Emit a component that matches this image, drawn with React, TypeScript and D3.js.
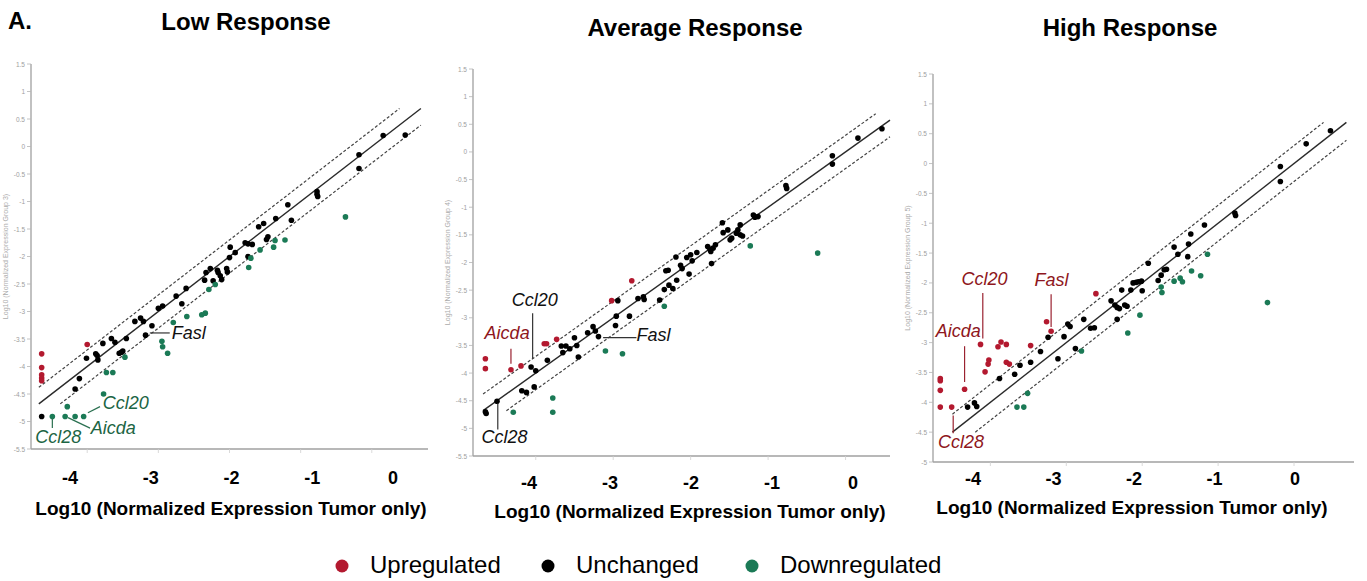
import React from 'react';
import * as d3 from 'd3';

type Pt = [number, number];
type Note = { gene: string; tone: 'up' | 'same' | 'down'; text: Pt; from: Pt; to: Pt };

// tick values / labels
const xTickValues = [-4, -3, -2, -1, 0];
const xTickLabels = ['-4', '-3', '-2', '-1', '0'];
const yTicksLong = [1.5, 1, 0.5, 0, -0.5, -1, -1.5, -2, -2.5, -3, -3.5, -4, -4.5, -5, -5.5];
const yTicksShort = [1.5, 1, 0.5, 0, -0.5, -1, -1.5, -2, -2.5, -3, -3.5, -4, -4.5, -5];
const legendLabels = ['Upregulated', 'Unchanged', 'Downregulated'];
const FOLD = Math.log10(2); // 2-fold boundary lines

// Low response (x = tumor only, y = group 3)
const lowUp: Pt[] = [[-4.64, -3.77], [-4.64, -4.02], [-4.64, -4.15], [-4.64, -4.21], [-4.64, -4.26], [-4.0, -3.6]];
const lowSame: Pt[] = [
  [-4.64, -4.91], [-4.17, -4.41], [-4.11, -4.22], [-4.01, -3.85], [-3.88, -3.77], [-3.86, -3.8], [-3.85, -3.88],
  [-3.78, -3.58], [-3.66, -3.49], [-3.61, -3.56], [-3.55, -3.76], [-3.52, -3.74], [-3.5, -3.72], [-3.45, -3.49],
  [-3.33, -3.18], [-3.25, -3.12], [-3.21, -3.18], [-3.18, -3.43], [-3.09, -3.26], [-3.0, -2.94], [-2.94, -2.9],
  [-2.75, -2.72], [-2.67, -2.86], [-2.61, -2.58], [-2.35, -2.43], [-2.33, -2.29], [-2.27, -2.22], [-2.23, -2.44],
  [-2.17, -2.25], [-2.16, -2.29], [-2.13, -2.35], [-2.11, -2.42], [-2.04, -2.22], [-2.03, -2.28], [-2.0, -2.02],
  [-1.99, -1.83], [-1.92, -1.93], [-1.78, -1.75], [-1.74, -1.77], [-1.68, -1.78], [-1.74, -2.0], [-1.59, -1.46],
  [-1.52, -1.4], [-1.48, -1.69], [-1.46, -1.64], [-1.35, -1.31], [-1.18, -1.06], [-1.13, -1.34], [-0.77, -0.82],
  [-0.77, -0.87], [-0.76, -0.91], [-0.18, -0.15], [-0.18, -0.4], [0.16, 0.2], [0.47, 0.21],
];
const lowDown: Pt[] = [
  [-4.49, -4.91], [-4.31, -4.91], [-4.17, -4.91], [-4.05, -4.91], [-4.28, -4.73], [-3.77, -4.5], [-3.73, -4.11],
  [-3.64, -4.11], [-3.47, -3.83], [-2.95, -3.54], [-2.94, -3.64], [-2.87, -3.76], [-2.79, -3.2], [-2.6, -3.09],
  [-2.39, -3.06], [-2.34, -3.03], [-2.29, -2.6], [-2.2, -2.51], [-1.73, -2.2], [-1.7, -2.03], [-1.57, -1.88],
  [-1.38, -1.83], [-1.36, -1.71], [-1.22, -1.7], [-0.37, -1.28],
];
const lowNotes: Note[] = [
  { gene: 'Fasl', tone: 'same', text: [-2.81, -3.39], from: [-3.12, -3.39], to: [-2.84, -3.39] },
  { gene: 'Ccl20', tone: 'down', text: [-3.78, -4.66], from: [-3.99, -4.84], to: [-3.82, -4.73] },
  { gene: 'Aicda', tone: 'down', text: [-3.95, -5.12], from: [-4.27, -4.93], to: [-3.96, -5.12] },
  { gene: 'Ccl28', tone: 'down', text: [-4.73, -5.28], from: [-4.49, -4.94], to: [-4.49, -5.12] },
];

// Average response (group 4)
const avgUp: Pt[] = [
  [-4.65, -3.74], [-4.65, -3.92], [-4.32, -3.94], [-4.19, -3.87], [-3.89, -3.47], [-3.86, -3.47], [-3.73, -3.39],
  [-3.02, -2.69], [-2.76, -2.33],
];
const avgSame: Pt[] = [
  [-4.65, -4.7], [-4.64, -4.73], [-4.5, -4.51], [-4.18, -4.32], [-4.12, -4.35], [-4.02, -4.25], [-4.06, -3.89],
  [-4.0, -3.96], [-3.85, -3.77], [-3.67, -3.51], [-3.65, -3.63], [-3.61, -3.51], [-3.56, -3.56], [-3.5, -3.36],
  [-3.47, -3.5], [-3.45, -3.71], [-3.33, -3.27], [-3.26, -3.16], [-3.23, -3.24], [-3.19, -3.34], [-2.97, -3.14],
  [-2.94, -2.69], [-2.96, -2.97], [-2.79, -2.97], [-2.68, -2.65], [-2.61, -2.62], [-2.6, -2.67], [-2.4, -2.68],
  [-2.34, -2.49], [-2.32, -2.15], [-2.29, -2.14], [-2.28, -2.41], [-2.23, -2.47], [-2.19, -1.9], [-2.18, -2.32],
  [-2.13, -2.05], [-2.11, -2.11], [-2.02, -2.21], [-2.05, -1.91], [-2.0, -1.86], [-1.98, -1.97], [-1.92, -1.82],
  [-1.78, -1.71], [-1.75, -1.76], [-1.74, -1.8], [-1.71, -1.74], [-1.68, -1.68], [-1.73, -2.02], [-1.59, -1.28],
  [-1.58, -1.46], [-1.52, -1.41], [-1.49, -1.59], [-1.47, -1.56], [-1.41, -1.47], [-1.39, -1.41], [-1.36, -1.32],
  [-1.36, -1.5], [-1.33, -1.52], [-1.19, -1.14], [-1.17, -1.18], [-1.13, -1.17], [-0.77, -0.61], [-0.76, -0.66],
  [-0.17, -0.07], [-0.17, -0.22], [0.16, 0.25], [0.47, 0.42],
];
const avgDown: Pt[] = [
  [-4.29, -4.71], [-3.78, -4.45], [-3.78, -4.71], [-3.1, -3.6], [-2.88, -3.65], [-2.34, -2.79], [-1.23, -1.7],
  [-0.36, -1.83],
];
const avgNotes: Note[] = [
  { gene: 'Ccl20', tone: 'same', text: [-4.31, -2.67], from: [-4.04, -2.92], to: [-4.04, -3.74] },
  { gene: 'Aicda', tone: 'up', text: [-4.66, -3.28], from: [-4.32, -3.56], to: [-4.32, -3.83] },
  { gene: 'Fasl', tone: 'same', text: [-2.7, -3.32], from: [-3.13, -3.36], to: [-2.7, -3.36] },
  { gene: 'Ccl28', tone: 'same', text: [-4.7, -5.16], from: [-4.49, -4.55], to: [-4.49, -5.02] },
];

// High response (group 5)
const highUp: Pt[] = [
  [-4.66, -3.6], [-4.66, -3.64], [-4.66, -3.8], [-4.66, -4.08], [-4.51, -4.08], [-4.34, -3.78], [-4.13, -3.03],
  [-4.07, -3.49], [-4.03, -3.36], [-4.02, -3.29], [-3.9, -3.07], [-3.86, -2.99], [-3.79, -3.03], [-3.79, -3.33],
  [-3.75, -3.36], [-3.47, -3.05], [-3.26, -2.65], [-3.2, -2.81], [-2.61, -2.18],
];
const highSame: Pt[] = [
  [-4.3, -4.08], [-4.21, -4.01], [-4.18, -4.07], [-3.88, -3.6], [-3.68, -3.53], [-3.61, -3.38], [-3.47, -3.33],
  [-3.34, -3.15], [-3.24, -2.91], [-3.11, -3.27], [-3.03, -2.9], [-2.98, -2.69], [-2.95, -2.73], [-2.88, -3.1],
  [-2.77, -2.61], [-2.68, -2.76], [-2.63, -2.75], [-2.41, -2.3], [-2.36, -2.37], [-2.33, -2.41], [-2.3, -2.43],
  [-2.33, -2.61], [-2.27, -2.12], [-2.23, -2.37], [-2.2, -2.39], [-2.15, -2.12], [-2.12, -2.0], [-2.08, -1.99],
  [-2.05, -1.98], [-2.01, -1.97], [-2.0, -2.13], [-1.92, -1.67], [-1.79, -1.96], [-1.75, -1.87], [-1.71, -1.78],
  [-1.68, -1.77], [-1.58, -1.4], [-1.53, -1.52], [-1.4, -1.56], [-1.39, -1.35], [-1.36, -1.18], [-1.18, -1.03],
  [-0.78, -0.83], [-0.77, -0.87], [-0.18, -0.05], [-0.18, -0.3], [0.16, 0.33], [0.48, 0.55],
];
const highDown: Pt[] = [
  [-3.65, -4.08], [-3.56, -4.08], [-3.51, -3.85], [-2.8, -3.14], [-2.19, -2.84], [-2.03, -2.54], [-1.75, -2.07],
  [-1.74, -2.16], [-1.58, -1.97], [-1.5, -1.92], [-1.47, -1.98], [-1.35, -1.8], [-1.23, -1.88], [-1.14, -1.52],
  [-0.35, -2.33],
];
const highNotes: Note[] = [
  { gene: 'Ccl20', tone: 'up', text: [-4.38, -1.94], from: [-4.1, -2.17], to: [-4.1, -2.93] },
  { gene: 'Fasl', tone: 'up', text: [-3.42, -1.95], from: [-3.2, -2.19], to: [-3.2, -2.74] },
  { gene: 'Aicda', tone: 'up', text: [-4.72, -2.81], from: [-4.34, -3.06], to: [-4.34, -3.66] },
  { gene: 'Ccl28', tone: 'up', text: [-4.69, -4.67], from: [-4.49, -4.22], to: [-4.49, -4.52] },
];

const dotColor = { up: '#b3192f', same: '#000000', down: '#1b7a56' };
const noteColor = { up: '#8e1620', same: '#111111', down: '#1c6544' };
const leaderColor = { up: '#9a2230', same: '#333333', down: '#2a7050' };

// panel layout (pixels)
const panels = [
  {
    title: 'Low Response', yLabel: 'Log10 (Normalized Expression Group 3)',
    up: lowUp, same: lowSame, down: lowDown, notes: lowNotes,
    xDomain: [-4.79, 0.79], yDomain: [-5.5, 1.5], yTicks: yTicksLong, lineLo: -4.68, lineHi: 0.69,
    left: 31, right: 428, top: 64, bottom: 449,
    labelRange: [70, 393], labelY: 484, titleX: 246, titleY: 30, xTitleX: 231, xTitleY: 515,
  },
  {
    title: 'Average Response', yLabel: 'Log10 (Normalized Expression Group 4)',
    up: avgUp, same: avgSame, down: avgDown, notes: avgNotes,
    xDomain: [-4.81, 0.574], yDomain: [-5.5, 1.5], yTicks: yTicksLong, lineLo: -4.68, lineHi: 0.69,
    left: 473, right: 890, top: 69, bottom: 456,
    labelRange: [529, 853], labelY: 489, titleX: 695, titleY: 36, xTitleX: 690, xTitleY: 518,
  },
  {
    title: 'High Response', yLabel: 'Log10 (Normalized Expression Group 5)',
    up: highUp, same: highSame, down: highDown, notes: highNotes,
    xDomain: [-4.756, 0.79], yDomain: [-5, 1.5], yTicks: yTicksShort, lineLo: -4.5, lineHi: 0.69,
    left: 933, right: 1354, top: 74, bottom: 462,
    labelRange: [973, 1295], labelY: 485, titleX: 1130, titleY: 36, xTitleX: 1132, xTitleY: 514,
  },
];

const Panel: React.FC<{ p: typeof panels[number] }> = ({ p }) => {
  const x = d3.scaleLinear().domain(p.xDomain).range([p.left, p.right]);
  const y = d3.scaleLinear().domain(p.yDomain).range([p.bottom, p.top]);
  const xl = d3.scaleLinear().domain([-4, 0]).range(p.labelRange);
  const hi = Math.min(p.lineHi, p.xDomain[1]);

  // y = x and the +/- 2-fold lines, clipped to the square [lineLo, hi]
  const refLines = [FOLD, 0, -FOLD].map((off) => {
    const x0 = Math.max(p.lineLo, p.lineLo - off);
    const x1 = Math.min(hi, p.lineHi - off);
    return { off, x0, x1 };
  });

  const groups: { pts: Pt[]; tone: 'up' | 'same' | 'down' }[] = [
    { pts: p.same, tone: 'same' },
    { pts: p.down, tone: 'down' },
    { pts: p.up, tone: 'up' },
  ];

  return (
    <g>
      <text x={p.titleX} y={p.titleY} textAnchor="middle" fontSize={24} fontWeight="bold">{p.title}</text>

      {/* axes */}
      <line x1={p.left} x2={p.left} y1={y(p.yDomain[1])} y2={p.bottom} stroke="#a0a0a0" strokeWidth={1.3} />
      <line x1={p.left} x2={p.right} y1={p.bottom} y2={p.bottom} stroke="#a0a0a0" strokeWidth={1.3} />
      {p.yTicks.map((t) => (
        <g key={t}>
          <line x1={p.left - 4} x2={p.left} y1={y(t)} y2={y(t)} stroke="#b5b5b5" strokeWidth={0.8} />
          <text x={p.left - 6} y={y(t)} textAnchor="end" dominantBaseline="central" fontSize={6.5} fill="#9e9e9e">
            {String(t)}
          </text>
        </g>
      ))}
      {xTickValues.map((t) => (
        <line key={t} x1={x(t)} x2={x(t)} y1={p.bottom} y2={p.bottom + 4} stroke="#d0d0d0" strokeWidth={0.8} />
      ))}
      <text
        transform={`translate(${p.left - 26},${(y(p.yDomain[1]) + p.bottom) / 2}) rotate(-90)`}
        textAnchor="middle" dominantBaseline="central" fontSize={7} fill="#ababab"
      >
        {p.yLabel}
      </text>

      {/* big overlay tick labels + axis title */}
      {xTickValues.map((t, i) => (
        <text key={t} x={xl(t)} y={p.labelY} textAnchor="middle" fontSize={18} fontWeight="bold">{xTickLabels[i]}</text>
      ))}
      <text x={p.xTitleX} y={p.xTitleY} textAnchor="middle" fontSize={19} fontWeight="bold">
        Log10 (Normalized Expression Tumor only)
      </text>

      {/* reference lines */}
      {refLines.map((l) => (
        <line
          key={l.off}
          x1={x(l.x0)} y1={y(l.x0 + l.off)} x2={x(l.x1)} y2={y(l.x1 + l.off)}
          stroke={l.off === 0 ? '#2a2a2a' : '#444'}
          strokeWidth={l.off === 0 ? 1.4 : 1.2}
          strokeDasharray={l.off === 0 ? undefined : '3,2'}
        />
      ))}

      {/* points */}
      {groups.map((g) =>
        g.pts.map((d, i) => (
          <circle key={g.tone + i} cx={x(d[0])} cy={y(d[1])} r={2.8} fill={dotColor[g.tone]} />
        ))
      )}

      {/* gene callouts */}
      {p.notes.map((n) => (
        <g key={n.gene}>
          <line x1={x(n.from[0])} y1={y(n.from[1])} x2={x(n.to[0])} y2={y(n.to[1])} stroke={leaderColor[n.tone]} strokeWidth={1.2} />
          <text x={x(n.text[0])} y={y(n.text[1])} dominantBaseline="central" fontSize={18} fontStyle="italic" fill={noteColor[n.tone]}>
            {n.gene}
          </text>
        </g>
      ))}
    </g>
  );
};

const legendTones: ('up' | 'same' | 'down')[] = ['up', 'same', 'down'];
const legendDotX = [342, 548, 752];

export default function App() {
  return (
    <svg
      width={1367}
      height={581}
      style={{ position: 'absolute', left: 0, top: 0, fontFamily: '"Liberation Sans", Arial, sans-serif' }}
    >
      <rect width={1367} height={581} fill="#fff" />
      <text x={8} y={29} fontSize={24} fontWeight="bold">A.</text>
      {panels.map((p) => <Panel key={p.title} p={p} />)}
      {legendLabels.map((lab, i) => (
        <g key={lab}>
          <circle cx={legendDotX[i]} cy={566} r={6.5} fill={dotColor[legendTones[i]]} />
          <text x={legendDotX[i] + 28} y={564} dominantBaseline="central" fontSize={24}>{lab}</text>
        </g>
      ))}
    </svg>
  );
}
